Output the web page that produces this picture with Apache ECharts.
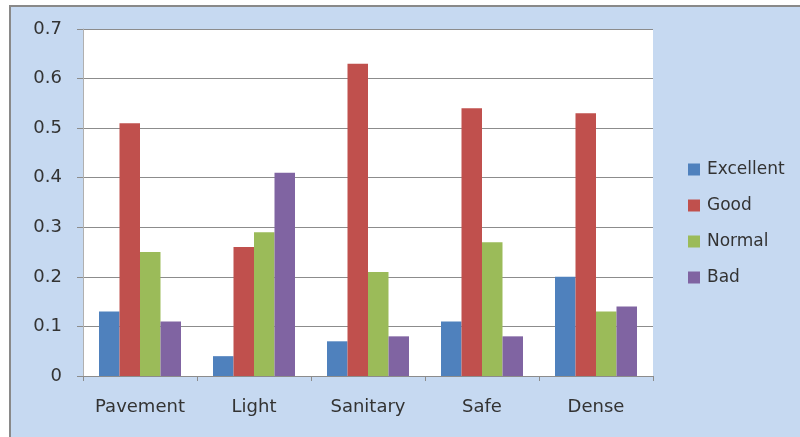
<!DOCTYPE html>
<html>
<head>
<meta charset="utf-8">
<script src="https://cdn.jsdelivr.net/npm/echarts@6/dist/echarts.min.js"></script>
<style>
  html, body { margin: 0; padding: 0; width: 800px; height: 437px; overflow: hidden; background: #ffffff; }
  #frame {
    position: absolute; left: 9px; top: 5px; width: 800px; height: 440px;
    background: #c6d9f1; border-top: 2px solid #898989; border-left: 2px solid #898989;
  }
  #chart { position: absolute; left: 0; top: 0; width: 800px; height: 437px; }
</style>
</head>
<body>
<div id="frame"></div>
<div id="chart"></div>
<script>
// Street quality survey: share of ratings per attribute
const categories = ['Pavement', 'Light', 'Sanitary', 'Safe', 'Dense'];
const excellent = [0.13, 0.04, 0.07, 0.11, 0.20];
const good      = [0.51, 0.26, 0.63, 0.54, 0.53];
const normal    = [0.25, 0.29, 0.21, 0.27, 0.13];
const bad       = [0.11, 0.41, 0.08, 0.08, 0.14];
const seriesNames = ['Excellent', 'Good', 'Normal', 'Bad'];
const palette = ['#4f81bd', '#c0504d', '#9bbb59', '#8064a2'];

const FONT = 'DejaVu Sans';
const TEXT = '#333333';

const chart = echarts.init(document.getElementById('chart'), null, { renderer: 'canvas' });

const seriesData = [excellent, good, normal, bad];

chart.setOption({
  animation: false,
  backgroundColor: 'transparent',
  grid: {
    left: 83, top: 29, width: 570, height: 347,
    show: true, backgroundColor: '#ffffff', borderWidth: 0
  },
  legend: {
    orient: 'vertical',
    left: 688, top: 161,
    padding: 0,
    itemWidth: 12, itemHeight: 12, itemGap: 19,
    icon: 'rect',
    data: seriesNames,
    textStyle: { fontFamily: FONT, fontSize: 17, color: TEXT, padding: [0, 0, 0, 2] }
  },
  xAxis: {
    type: 'category',
    data: categories,
    axisLine: { show: true, lineStyle: { color: '#8c8c8c', width: 1 } },
    axisTick: { show: true, interval: 0, length: 5, lineStyle: { color: '#8c8c8c' } },
    axisLabel: { interval: 0, hideOverlap: false, fontFamily: FONT, fontSize: 18, color: TEXT, margin: 22 }
  },
  yAxis: {
    type: 'value',
    min: 0, max: 0.7, interval: 0.1,
    axisLine: { show: true, lineStyle: { color: '#b0b0b0', width: 1 } },
    axisTick: { show: true, length: 6, lineStyle: { color: '#8c8c8c' } },
    splitLine: { show: true, lineStyle: { color: '#8c8c8c', width: 1 } },
    axisLabel: {
      fontFamily: FONT, fontSize: 18, color: TEXT, margin: 21,
      formatter: v => (v === 0 ? '0' : v.toFixed(1))
    }
  },
  series: seriesNames.map((name, i) => ({
    name,
    type: 'bar',
    data: seriesData[i],
    barWidth: 20.5,
    barGap: '0%',
    itemStyle: { color: palette[i] }
  }))
});
</script>
</body>
</html>
